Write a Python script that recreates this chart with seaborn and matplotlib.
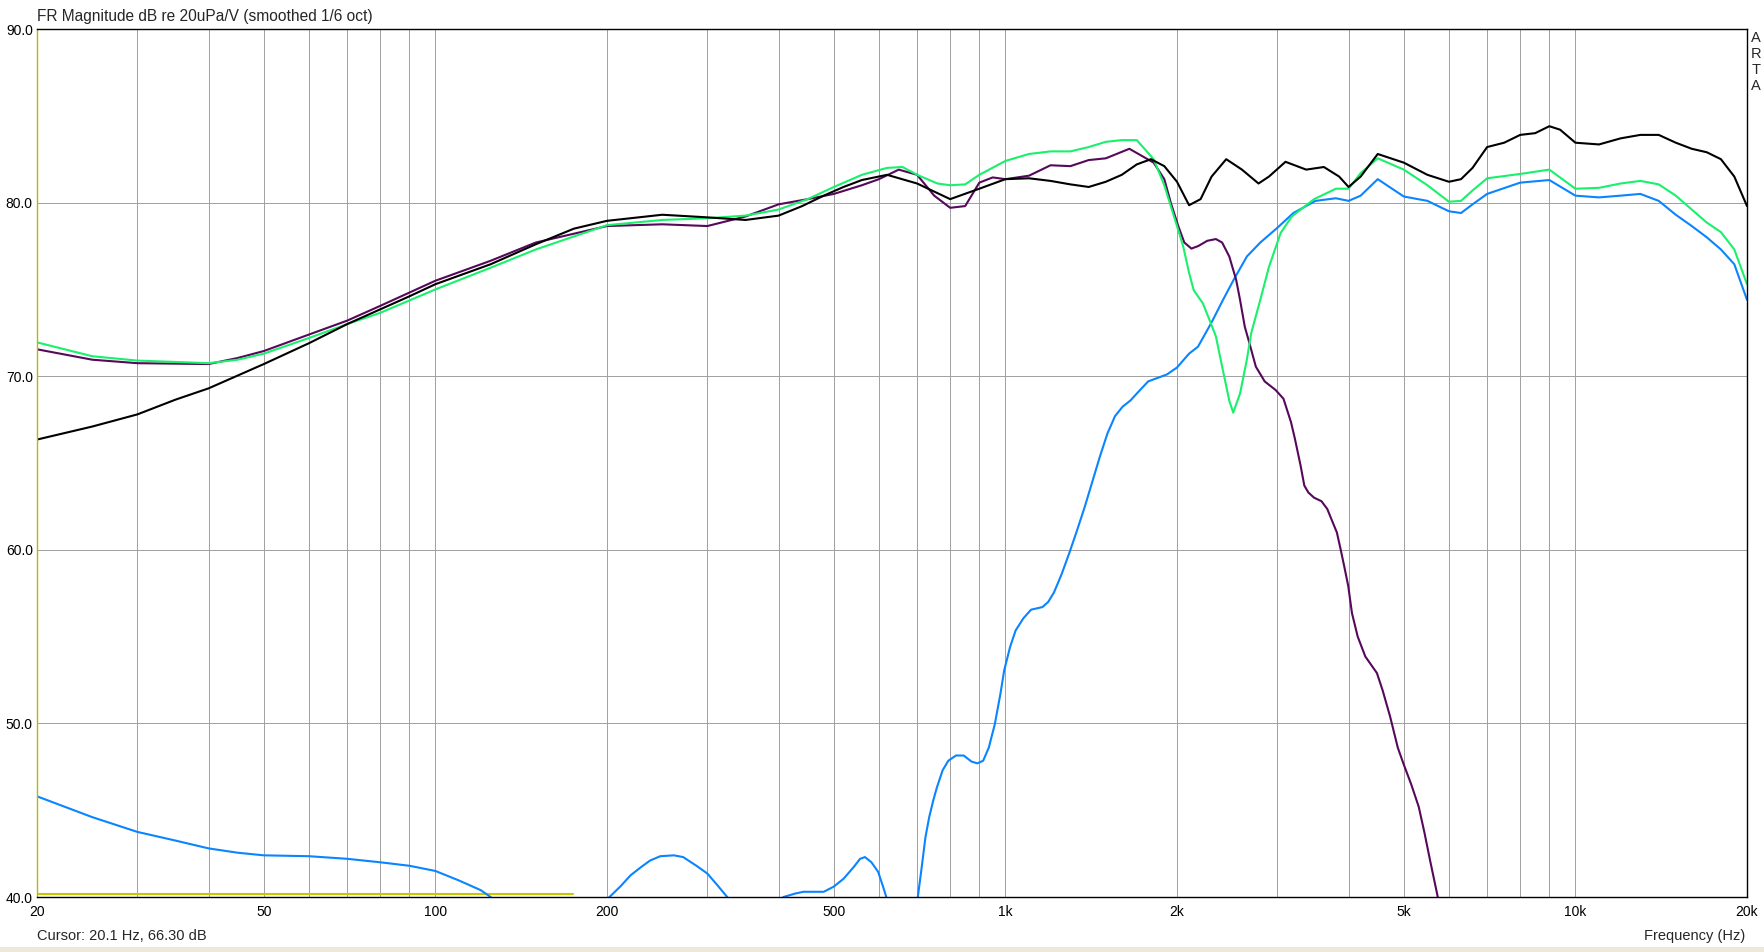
"""
ARTA 频响曲线重绘：低音、高音、合成（同相/反相）四条 1/6 oct 平滑曲线。
"""

import pandas as pd
import seaborn as sns
import matplotlib.pyplot as plt
from matplotlib.patches import Rectangle
from matplotlib.ticker import NullFormatter

# ---- 数据 ----
freq_sum = [20, 25, 30, 35, 40, 50, 60, 70, 80, 90, 100, 125, 150, 175, 200, 250, 300, 350, 400, 440,
            480, 520, 560, 620, 700, 800, 900, 1000, 1100, 1200, 1300, 1400, 1500, 1600, 1700, 1800,
            1900, 2000, 2100, 2200, 2300, 2440, 2600, 2780, 2900, 3100, 3370, 3620, 3850, 4000, 4200,
            4500, 5000, 5500, 6000, 6300, 6600, 7000, 7500, 8000, 8500, 9000, 9400, 10000, 11000,
            12000, 13000, 14000, 15000, 16000, 17000, 18000, 19000, 20000]
db_sum = [66.35, 67.1, 67.8, 68.65, 69.3, 70.7, 71.9, 73.0, 73.85, 74.6, 75.3, 76.45, 77.6, 78.5, 78.95,
          79.3, 79.15, 79.0, 79.25, 79.8, 80.4, 80.9, 81.3, 81.6, 81.1, 80.2, 80.8, 81.35, 81.4, 81.25,
          81.05, 80.9, 81.2, 81.6, 82.2, 82.5, 82.1, 81.2, 79.85, 80.2, 81.5, 82.5, 81.9, 81.1, 81.5,
          82.35, 81.9, 82.05, 81.5, 80.9, 81.5, 82.8, 82.3, 81.6, 81.2, 81.35, 82.0, 83.2, 83.45, 83.9,
          84.0, 84.4, 84.2, 83.45, 83.35, 83.7, 83.9, 83.9, 83.45, 83.1, 82.9, 82.5, 81.5, 79.8]

freq_sum2 = [20, 25, 30, 40, 45, 50, 60, 70, 80, 100, 125, 150, 200, 250, 300, 350, 400, 450, 500, 560,
             620, 660, 700, 760, 800, 850, 900, 1000, 1100, 1200, 1300, 1400, 1500, 1600, 1700, 1820,
             1900, 2000, 2050, 2100, 2140, 2220, 2280, 2340, 2400, 2470, 2510, 2580, 2650, 2700, 2800,
             2900, 3040, 3180, 3480, 3800, 4000, 4200, 4500, 5000, 5500, 6000, 6300, 6600, 7000, 8000,
             9000, 10000, 11000, 12000, 13000, 14000, 15000, 16000, 17000, 18000, 19000, 20000]
db_sum2 = [71.95, 71.15, 70.9, 70.75, 70.95, 71.3, 72.2, 73.0, 73.65, 75.0, 76.25, 77.3, 78.7, 79.0,
           79.1, 79.25, 79.6, 80.2, 80.9, 81.6, 82.0, 82.05, 81.6, 81.1, 81.0, 81.05, 81.6, 82.4, 82.8,
           82.95, 82.95, 83.2, 83.5, 83.6, 83.6, 82.5, 81.0, 78.65, 77.5, 75.95, 74.95, 74.2, 73.25,
           72.3, 70.55, 68.6, 67.9, 69.0, 70.9, 72.5, 74.4, 76.3, 78.25, 79.2, 80.2, 80.8, 80.8, 81.7,
           82.55, 81.9, 81.0, 80.05, 80.1, 80.7, 81.4, 81.65, 81.9, 80.8, 80.85, 81.1, 81.25, 81.05,
           80.4, 79.6, 78.85, 78.3, 77.3, 75.3]

freq_woofer = [20, 25, 30, 40, 45, 50, 60, 70, 80, 100, 125, 150, 200, 250, 300, 350, 400, 450, 500,
               560, 600, 650, 700, 750, 800, 850, 900, 950, 1000, 1100, 1200, 1300, 1400, 1500, 1650,
               1820, 1900, 1950, 2010, 2060, 2120, 2180, 2260, 2340, 2400, 2470, 2540, 2580, 2630,
               2680, 2750, 2850, 2980, 3075, 3170, 3220, 3295, 3345, 3400, 3480, 3585, 3670, 3755,
               3815, 3875, 3930, 3995, 4055, 4150, 4280, 4485, 4590, 4730, 4880, 4990, 5150, 5310,
               5435, 5560, 5735, 6000]
db_woofer = [71.55, 70.95, 70.75, 70.7, 71.05, 71.45, 72.4, 73.2, 74.05, 75.5, 76.65, 77.7, 78.65,
             78.75, 78.65, 79.2, 79.9, 80.2, 80.5, 81.0, 81.35, 81.9, 81.6, 80.4, 79.7, 79.8, 81.15,
             81.45, 81.35, 81.55, 82.15, 82.1, 82.45, 82.55, 83.1, 82.3, 81.35, 80.0, 78.65, 77.7,
             77.35, 77.5, 77.8, 77.9, 77.7, 76.9, 75.55, 74.4, 72.85, 71.9, 70.55, 69.7, 69.2, 68.7,
             67.35, 66.4, 64.85, 63.7, 63.3, 63.0, 62.8, 62.35, 61.55, 61.0, 60.0, 59.05, 57.9, 56.35,
             55.0, 53.85, 52.9, 51.9, 50.4, 48.6, 47.7, 46.5, 45.2, 43.7, 42.1, 40.0, 36.5]

freq_tweeter = [20, 25, 30, 35, 40, 45, 50, 60, 70, 80, 90, 100, 110, 120, 125, 140, 180, 202, 211,
                220, 229, 238, 248, 262, 272, 287, 300, 312, 325, 365, 408, 428, 442, 480, 500, 520,
                541, 556, 567, 582, 598, 610, 618, 660, 702, 713, 724, 735, 747, 758, 776, 794, 819,
                845, 872, 893, 914, 935, 958, 980, 995, 1019, 1042, 1075, 1109, 1161, 1189, 1217,
                1255, 1294, 1335, 1377, 1420, 1464, 1510, 1557, 1606, 1657, 1700, 1780, 1920, 2000,
                2100, 2177, 2300, 2400, 2514, 2653, 2800, 3000, 3200, 3500, 3800, 4000, 4200, 4500,
                5000, 5500, 6000, 6300, 6600, 7000, 8000, 9000, 10000, 11000, 12000, 13000, 14000,
                15000, 16000, 17000, 18000, 19000, 20000]
db_tweeter = [45.8, 44.6, 43.75, 43.25, 42.8, 42.55, 42.4, 42.35, 42.2, 42.0, 41.8, 41.5, 40.95, 40.4,
              40.0, 38.0, 38.0, 40.0, 40.6, 41.25, 41.7, 42.1, 42.35, 42.4, 42.3, 41.8, 41.35, 40.7,
              40.0, 38.0, 40.0, 40.2, 40.3, 40.3, 40.6, 41.05, 41.7, 42.2, 42.3, 42.0, 41.45, 40.6,
              40.0, 37.0, 40.0, 41.7, 43.45, 44.6, 45.55, 46.3, 47.3, 47.85, 48.15, 48.15, 47.8, 47.7,
              47.85, 48.6, 49.95, 51.7, 53.05, 54.4, 55.35, 56.05, 56.55, 56.7, 57.0, 57.55, 58.6,
              59.8, 61.1, 62.45, 63.9, 65.35, 66.7, 67.7, 68.25, 68.6, 69.0, 69.7, 70.1, 70.5, 71.3,
              71.7, 73.1, 74.3, 75.55, 76.9, 77.7, 78.55, 79.4, 80.1, 80.25, 80.1, 80.4, 81.35, 80.35,
              80.1, 79.5, 79.4, 79.9, 80.5, 81.15, 81.3, 80.4, 80.3, 80.4, 80.5, 80.1, 79.3, 78.65,
              78.0, 77.3, 76.45, 74.4]

freq_marker = [20, 174]
db_marker = [40.17, 40.17]

x_major = [20, 50, 100, 200, 500, 1000, 2000, 5000, 10000, 20000]
x_major_labels = ['20', '50', '100', '200', '500', '1k', '2k', '5k', '10k', '20k']
x_minor = [30, 40, 60, 70, 80, 90, 300, 400, 600, 700, 800, 900,
           3000, 4000, 6000, 7000, 8000, 9000]
y_ticks = [40, 50, 60, 70, 80, 90]

colors = {
    'marker': '#C8C800',
    'tweeter': '#0A84FF',
    'woofer': '#56085A',
    'sum2': '#19F06C',
    'sum': '#000000',
}

# ---- 绘图 ----
sns.set_theme(style="white")
plt.rcParams['font.family'] = ['Liberation Sans', 'DejaVu Sans']

curves = {
    'marker': (freq_marker, db_marker),
    'tweeter': (freq_tweeter, db_tweeter),
    'woofer': (freq_woofer, db_woofer),
    'sum2': (freq_sum2, db_sum2),
    'sum': (freq_sum, db_sum),
}
df = pd.concat([pd.DataFrame({'freq': f, 'db': d, 'trace': name})
                for name, (f, d) in curves.items()], ignore_index=True)

fig = plt.figure(figsize=(17.64, 9.52), dpi=100)
ax = fig.add_axes([37 / 1764, 55 / 952, 1710 / 1764, 868 / 952])

sns.lineplot(data=df, x='freq', y='db', hue='trace', hue_order=list(curves.keys()),
             palette=colors, estimator=None, sort=False, linewidth=1.5,
             legend=False, ax=ax)

ax.set_xscale('log')
ax.set_xlim(20, 20000)
ax.set_ylim(40, 90)
ax.set_xticks(x_major, x_major_labels)
ax.set_xticks(x_minor, minor=True)
ax.xaxis.set_minor_formatter(NullFormatter())
ax.set_yticks(y_ticks, [f'{v:.1f}' for v in y_ticks])
ax.set_xlabel('')
ax.set_ylabel('')

ax.grid(which='both', axis='x', color='#A0A0A0', linewidth=0.7)
ax.grid(which='major', axis='y', color='#A0A0A0', linewidth=0.7)
ax.set_axisbelow(True)
ax.tick_params(which='both', length=0, labelsize=10, colors='black')
ax.tick_params(axis='x', pad=6)
ax.tick_params(axis='y', pad=3)

for side in ['top', 'right', 'bottom']:
    ax.spines[side].set_color('black')
    ax.spines[side].set_linewidth(1.0)
ax.spines['left'].set_color('#B8B800')
ax.spines['left'].set_linewidth(1.0)

fig.text(37 / 1764, 1 - 17 / 952, 'FR Magnitude dB re 20uPa/V (smoothed 1/6 oct)',
         ha='left', va='center', fontsize=11.2)
fig.text(37 / 1764, 1 - 936 / 952, 'Cursor: 20.1 Hz, 66.30 dB',
         ha='left', va='center', fontsize=10.5)
fig.text(1745 / 1764, 1 - 936 / 952, 'Frequency (Hz)',
         ha='right', va='center', fontsize=10.5)
for i, ch in enumerate('ARTA'):
    fig.text(1756 / 1764, 1 - (38 + 16 * i) / 952, ch, ha='center', va='center', fontsize=10.5)

fig.add_artist(Rectangle((0, 0), 1, 5 / 952, transform=fig.transFigure,
                         facecolor='#ECE9D8', edgecolor='none'))

fig.savefig('out.png', dpi=100)
